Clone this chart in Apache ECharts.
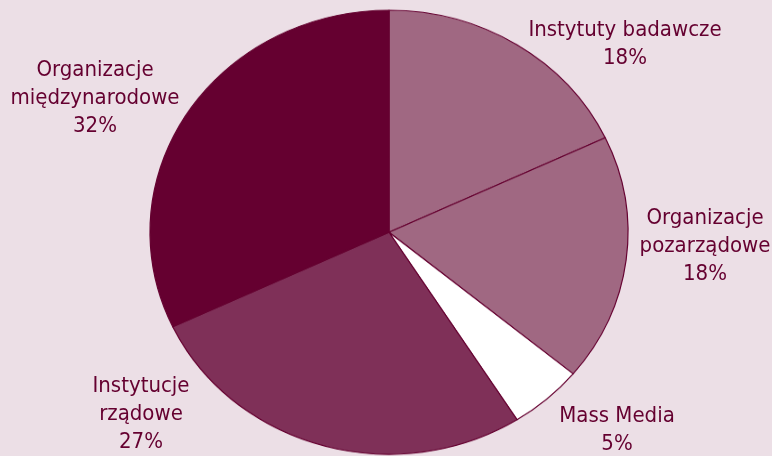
<!DOCTYPE html>
<html>
<head>
<meta charset="utf-8">
<script src="https://cdn.jsdelivr.net/npm/echarts@6/dist/echarts.min.js"></script>
<style>
  html, body { margin: 0; padding: 0; background: #ecdfe6; overflow: hidden; }
  #wrap { position: relative; width: 772px; height: 456px; overflow: hidden; }
  #pie { position: absolute; left: 0; top: 0; width: 772px; height: 500px;
         transform: scaleY(0.929); transform-origin: 0 0; }
  #labels { position: absolute; left: 0; top: 0; width: 772px; height: 456px; }
</style>
</head>
<body>
<div id="wrap">
  <div id="pie"></div>
  <div id="labels"></div>
</div>
<script>
// udział grup (%), od góry zgodnie z ruchem wskazówek zegara
const names = ['Instytuty badawcze', 'Organizacje\npozarządowe', 'Mass Media', 'Instytucje\nrządowe', 'Organizacje\nmiędzynarodowe']
const values = [18, 18, 5, 27, 32]
const colors = ['#a06882', '#a06882', '#ffffff', '#7f3058', '#650030']

// środki etykiet w pikselach
const labelPos = [[625, 44], [705, 246], [617, 430], [141, 414], [95, 98]]

const seriesData = names.map((n, i) => ({ name: n, value: values[i], itemStyle: { color: colors[i] } }))

let pieChart = echarts.init(document.getElementById('pie'))
pieChart.setOption({
  animation: false,
  series: [
    {
      type: 'pie',
      center: [389, 250],
      radius: 239,
      startAngle: 90,
      clockwise: true,
      silent: true,
      label: { show: false },
      labelLine: { show: false },
      itemStyle: {
        borderColor: '#650030',
        borderWidth: 1.2
      },
      data: seriesData
    }
  ]
})

let labelChart = echarts.init(document.getElementById('labels'))
labelChart.setOption({
  animation: false,
  series: [
    {
      type: 'pie',
      center: [389, 232],
      radius: 100,
      startAngle: 90,
      clockwise: true,
      silent: true,
      itemStyle: { color: 'rgba(0,0,0,0)', borderWidth: 0 },
      labelLine: { show: false },
      label: {
        show: true,
        position: 'outside',
        overflow: 'none',
        formatter: '{b}\n{d}%',
        color: '#650030',
        fontFamily: '"DejaVu Sans Condensed", sans-serif',
        fontSize: 22,
        lineHeight: 28
      },
      labelLayout: (params) => ({
        x: labelPos[params.dataIndex][0],
        y: labelPos[params.dataIndex][1],
        align: 'center',
        verticalAlign: 'middle'
      }),
      data: names.map((n, i) => ({ name: n, value: values[i] }))
    }
  ]
})
</script>
</body>
</html>
